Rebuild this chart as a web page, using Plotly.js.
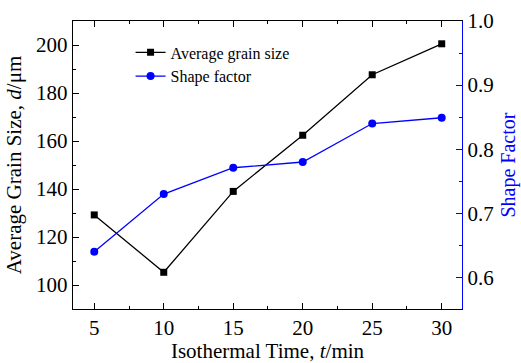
<!DOCTYPE html>
<html>
<head>
<meta charset="utf-8">
<script src="https://cdn.plot.ly/plotly-3.0.1.min.js"></script>
<style>html,body{margin:0;padding:0;background:#fff;}#chart{width:521px;height:363px;}</style>
</head>
<body>
<div id="chart"></div>
<script>
const times = [5, 10, 15, 20, 25, 30];
const grainSize = [129.2, 105.3, 139.0, 162.4, 187.6, 200.5];
const shapeFactor = [0.640, 0.730, 0.771, 0.780, 0.840, 0.849];

const F = "Liberation Serif, Times New Roman, serif";

const traces = [
  {x: times, y: grainSize, name: "Average grain size", type: "scatter", mode: "lines+markers",
   line: {color: "#000000", width: 1.3}, marker: {symbol: "square", size: 7, color: "#000000"}},
  {x: times, y: shapeFactor, name: "Shape factor", type: "scatter", mode: "lines+markers", yaxis: "y2",
   line: {color: "#0000FF", width: 1.3}, marker: {symbol: "circle", size: 8, color: "#0000FF"}}
];

const layout = {
  width: 521, height: 363,
  margin: {l: 73, r: 59, t: 21, b: 54},
  paper_bgcolor: "#ffffff", plot_bgcolor: "#ffffff",
  font: {family: F, color: "#000000", size: 21},
  showlegend: true,
  legend: {x: 0.148, y: 0.95, xanchor: "left", yanchor: "top", bgcolor: "rgba(0,0,0,0)",
           font: {family: F, size: 16, color: "#000"}, tracegroupgap: 0, itemwidth: 30},
  xaxis: {
    range: [3.47, 31.46], tickvals: [5, 10, 15, 20, 25, 30], showgrid: false, zeroline: false,
    showline: true, linecolor: "#000", linewidth: 1.2, mirror: "ticks",
    ticks: "inside", ticklen: 6, tickwidth: 1, tickcolor: "#000",
    minor: {tickvals: [7.5, 12.5, 17.5, 22.5, 27.5], ticks: "inside", ticklen: 3, tickcolor: "#000"},
    tickfont: {family: F, size: 21},
    title: {text: "Isothermal Time, <i>t</i>/min", font: {family: F, size: 21}, standoff: 0}
  },
  yaxis: {
    range: [90, 210], tickvals: [100, 120, 140, 160, 180, 200], showgrid: false, zeroline: false,
    showline: true, linecolor: "#000", linewidth: 1.2,
    ticks: "inside", ticklen: 6, tickwidth: 1, tickcolor: "#000",
    minor: {tickvals: [110, 130, 150, 170, 190], ticks: "inside", ticklen: 3, tickcolor: "#000"},
    tickfont: {family: F, size: 21},
    title: {text: "Average Grain Size, <i>d</i>/μm", font: {family: F, size: 21}, standoff: 8}
  },
  yaxis2: {
    overlaying: "y", side: "right",
    range: [0.5506, 1.0], tickvals: [0.6, 0.7, 0.8, 0.9, 1.0], ticktext: ["0.6", "0.7", "0.8", "0.9", "1.0"],
    showgrid: false, zeroline: false,
    showline: true, linecolor: "#0000FF", linewidth: 1.2,
    ticks: "inside", ticklen: 6, tickwidth: 1, tickcolor: "#0000FF",
    minor: {tickvals: [0.65, 0.75, 0.85, 0.95], ticks: "inside", ticklen: 3, tickcolor: "#0000FF"},
    tickfont: {family: F, size: 21, color: "#000"},
    title: {text: "Shape Factor", font: {family: F, size: 20, color: "#0000FF"}, standoff: 8}
  }
};

Plotly.newPlot("chart", traces, layout, {displayModeBar: false, staticPlot: true});
</script>
</body>
</html>
